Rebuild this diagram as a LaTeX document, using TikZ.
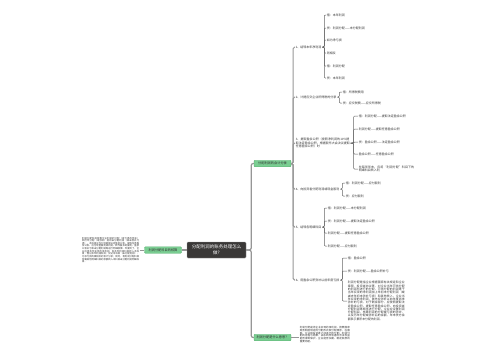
\documentclass[tikz,border=0pt]{standalone}
\usepackage{fontspec}
\setmainfont{Noto Sans CJK SC}
\XeTeXlinebreaklocale "zh"
\XeTeXlinebreakskip = 0pt plus 1pt
\usepackage{tikz}
\usetikzlibrary{positioning,calc}
\definecolor{rootgray}{RGB}{58,56,55}
\definecolor{mintgreen}{RGB}{122,206,146}
\definecolor{mintedge}{RGB}{88,176,114}
\definecolor{linegray}{RGB}{150,150,150}
\definecolor{inkgray}{RGB}{50,50,50}

\begin{document}
\begin{tikzpicture}[x=1pt, y=-1pt]
    \tikzstyle{root} = [draw=linegray, fill=rootgray, text=white, rectangle, rounded corners=1pt, minimum width=59pt, minimum height=16pt, align=center, inner sep=1pt, font=\fontsize{4.5}{5.8}\selectfont]
    \tikzstyle{topic} = [draw=mintedge, fill=mintgreen, rectangle, rounded corners=1pt, minimum width=37pt, minimum height=6.5pt, inner sep=0.5pt, text=inkgray, font=\fontsize{3.2}{3.8}\selectfont]
    \tikzstyle{item} = [anchor=west, align=left, inner sep=0.6pt, text=inkgray, font=\fontsize{3}{3.6}\selectfont]
    \tikzstyle{para} = [inner sep=0.6pt, align=justify, text=inkgray]
    \tikzstyle{trunk} = [draw=linegray, line width=1.2pt, rounded corners=2pt]
    \tikzstyle{link} = [draw=linegray, line width=1pt, rounded corners=1.5pt]
    \tikzstyle{twig} = [draw=inkgray!75, line width=0.5pt, rounded corners=1pt]

    \useasboundingbox (0,0) rectangle (500,360);

    \node [root] (r) at (216.5,250) {分配利润的账务处理怎么\\做?};
    \node [topic] (t0) at (163,250) {利润分配科目的核算};
    \node [topic] (t1) at (272.5,163.5) {分配利润的会计分录};
    \node [topic] (t2) at (272.5,337.5) {利润分配是什么意思？};

    \node [para, anchor=east, text width=57pt, font=\fontsize{2.35}{2.65}\selectfont] (p0) at (140,250) {利润分配科目核算企业利润的分配（或亏损的弥补）和历年分配（或弥补）后的未分配利润（或未弥补亏损）。本科目应当分别提取法定盈余公积、提取任意盈余公积、应付现金股利或利润、转作股本的股利、盈余公积补亏和未分配利润等进行明细核算。年度终了，企业应将本年实现的净利润，自本年利润科目转入本科目，借记本年利润科目，贷记本科目（未分配利润），为净亏损的做相反的会计分录；同时，将利润分配科目所属其他明细科目的余额转入本科目未分配利润明细科目。};
    \node [para, anchor=west, text width=50pt, font=\fontsize{2.55}{2.75}\selectfont] (p2) at (299,334.5) {利润分配是将企业实现的净利润，按照国家财务制度规定的分配形式和分配顺序，在国家、企业和投资者之间进行的分配。利润分配的过程与结果，关系到所有者的合法权益能否得到保护，企业能否长期、稳定发展的重要问题。};

    \node [item] (i1) at (295,47) {1、结转本年净利润};
    \node [item] (i2) at (295,97) {2、计提应交企业所得税的分录};
    \node [item, text width=54pt] (i3) at (295,143) {3、提取盈余公积（按照净利润的10\%提取法定盈余公积，根据股东大会决议提取任意盈余公积）时};
    \node [item] (i4) at (295,189) {4、向投资者分配利润或现金股利};
    \node [item] (i5) at (295,227) {5、结转各明细科目};
    \node [item] (i6) at (295,280) {6、用盈余公积弥补以前年度亏损};

    \node [item] (a1) at (326,15) {借：本年利润};
    \node [item] (a2) at (326,28) {贷：利润分配——未分配利润};
    \node [item] (a3) at (326,40) {如为净亏损};
    \node [item] (a4) at (326,53) {则相反};
    \node [item] (a5) at (326,66) {借：利润分配};
    \node [item] (a6) at (326,78) {贷：本年利润};

    \node [item] (b1) at (342,92) {借：所得税费用};
    \node [item] (b2) at (342,103) {贷：应交税费——应交所得税};

    \node [item] (c1) at (358,116) {借：利润分配——提取法定盈余公积};
    \node [item] (c2) at (358,129) {利润分配——提取任意盈余公积};
    \node [item] (c3) at (358,142) {贷：盈余公积——法定盈余公积};
    \node [item] (c4) at (358,154) {盈余公积——任意盈余公积};
    \node [item, text width=56pt] (c5) at (358,169) {在每年年末，应将“利润分配”科目下的明细科目转入利};

    \node [item] (d1) at (345,183) {借：利润分配——应付股利};
    \node [item] (d2) at (345,196) {贷：应付股利};

    \node [item] (e1) at (327,208) {借：利润分配——未分配利润};
    \node [item] (e2) at (327,221) {贷：利润分配——提取法定盈余公积};
    \node [item] (e3) at (327,233) {利润分配——提取任意盈余公积};
    \node [item] (e4) at (327,246) {利润分配——应付股利};

    \node [item] (f1) at (347,258) {借：盈余公积};
    \node [item] (f2) at (347,271) {贷：利润分配——盈余公积补亏};
    \node [item, para, text width=57pt, font=\fontsize{2.9}{3.3}\selectfont] (f3) at (347,301) {利润分配是指企业根据国家有关规定和企业章程、投资者协议等，对企业当年可供分配的利润所进行的分配。可供分配的利润等于当年实现的净利润加上年初未分配利润（或减去年初未弥补亏损）和其他转入。企业当年实现的净利润，首先应弥补以前年度尚未弥补的亏损，对于剩余部分，应按照提取法定盈余公积、提取任意盈余公积、向投资者分配利润等顺序进行分配。企业应设置利润分配科目，核算利润的分配或亏损的弥补，以及历年分配或弥补后的余额，年末贷方余额表示累积未分配的利润。};

    \draw [trunk] (r.west) -- (t0.east);
    \draw [trunk] (r.east) -- ++(5,0) |- (t1.west);
    \draw [trunk] (r.east) -- ++(5,0) |- (t2.west);
    \draw [link] (t0.west) -- (p0.east);
    \draw [link] (t2.east) -- (t2.east -| p2.west);

    \draw [link] (t1.east) -- ++(2,0) |- (i1.west);
    \draw [link] (t1.east) -- ++(2,0) |- (i2.west);
    \draw [link] (t1.east) -- ++(2,0) |- (i3.west);
    \draw [link] (t1.east) -- ++(2,0) |- (i4.west);
    \draw [link] (t1.east) -- ++(2,0) |- (i5.west);
    \draw [link] (t1.east) -- ++(2,0) |- (i6.west);

    \draw [twig] (i1.east) -- ++(2,0) |- (a1.west);
    \draw [twig] (i1.east) -- ++(2,0) |- (a2.west);
    \draw [twig] (i1.east) -- ++(2,0) |- (a3.west);
    \draw [twig] (i1.east) -- ++(2,0) |- (a4.west);
    \draw [twig] (i1.east) -- ++(2,0) |- (a5.west);
    \draw [twig] (i1.east) -- ++(2,0) |- (a6.west);
    \draw [twig] (i2.east) -- ++(2,0) |- (b1.west);
    \draw [twig] (i2.east) -- ++(2,0) |- (b2.west);
    \draw [twig] (i3.east) -- ++(3,0) |- (c1.west);
    \draw [twig] (i3.east) -- ++(3,0) |- (c2.west);
    \draw [twig] (i3.east) -- ++(3,0) |- (c3.west);
    \draw [twig] (i3.east) -- ++(3,0) |- (c4.west);
    \draw [twig] (i3.east) -- ++(3,0) |- (c5.west);
    \draw [twig] (i4.east) -- ++(2,0) |- (d1.west);
    \draw [twig] (i4.east) -- ++(2,0) |- (d2.west);
    \draw [twig] (i5.east) -- ++(2,0) |- (e1.west);
    \draw [twig] (i5.east) -- ++(2,0) |- (e2.west);
    \draw [twig] (i5.east) -- ++(2,0) |- (e3.west);
    \draw [twig] (i5.east) -- ++(2,0) |- (e4.west);
    \draw [twig] (i6.east) -- ++(2,0) |- (f1.west);
    \draw [twig] (i6.east) -- ++(2,0) |- (f2.west);
    \draw [twig] (i6.east) -- ++(2,0) |- (f3.west);
\end{tikzpicture}
\end{document}
